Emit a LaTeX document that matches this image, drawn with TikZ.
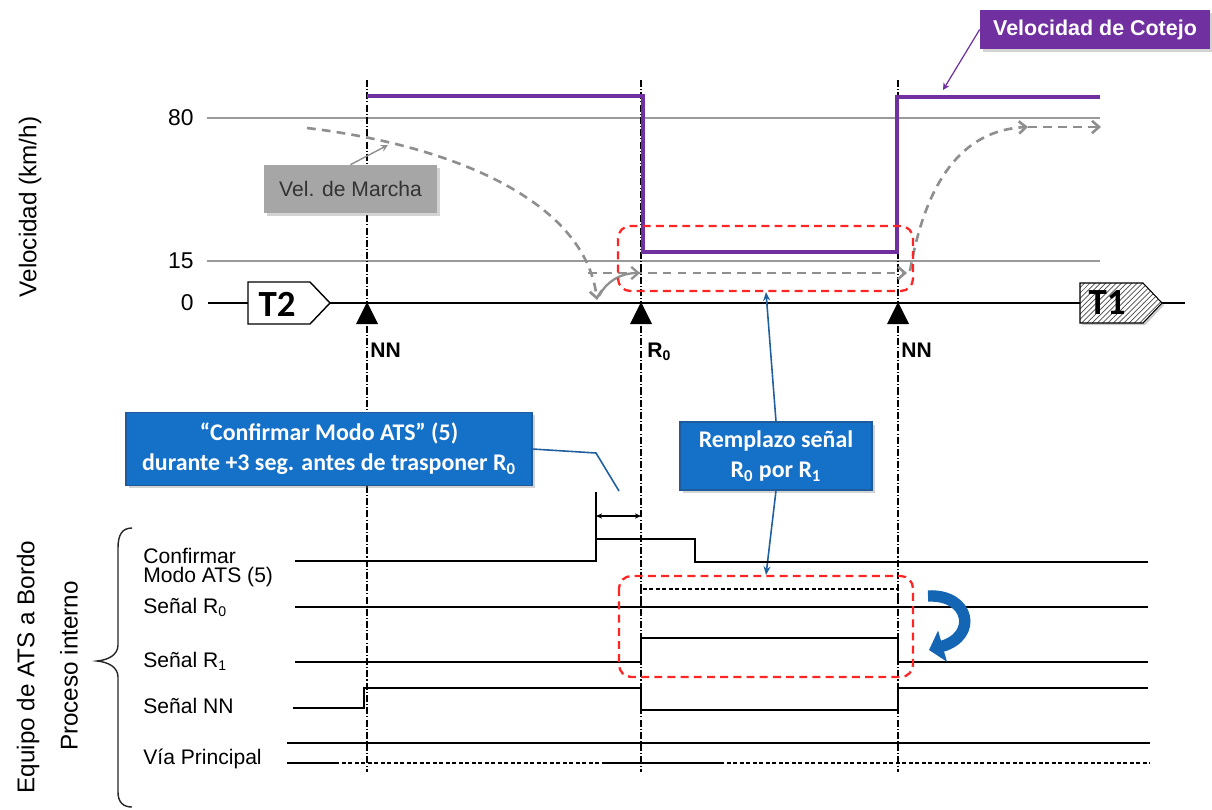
\documentclass[tikz,border=0pt]{standalone}
\usepackage{fontspec}
\setmainfont{Liberation Sans}
\newfontfamily\carl{Carlito}
\usetikzlibrary{arrows.meta,shadows,patterns,calc}
\definecolor{purp}{HTML}{7030A0}
\definecolor{bbox}{HTML}{1570C8}
\definecolor{bedge}{HTML}{1F5A9A}
\definecolor{bline}{HTML}{1F5F9E}
\definecolor{gbox}{HTML}{A6A6A6}
\definecolor{gdash}{HTML}{8F8F8F}
\definecolor{rdash}{HTML}{FF2525}
\definecolor{barrow}{HTML}{1466B4}
\begin{document}
\begin{tikzpicture}[x=0.02cm,y=-0.02cm,
  lbl/.style={font=\fontsize{12}{13}\selectfont, inner sep=0pt, anchor=base west},
  num/.style={font=\fontsize{13}{14}\selectfont, inner sep=0pt, anchor=east},
  rotlbl/.style={font=\fontsize{13.8}{15}\selectfont, rotate=90, inner sep=0pt},
  marklbl/.style={font=\fontsize{12}{13}\selectfont\bfseries, inner sep=0pt, anchor=base west},
  sig/.style={line width=0.8pt, black},
  refline/.style={line width=0.7pt, black!40},
  vline/.style={line width=0.6pt, black, dash pattern=on 4pt off 1.2pt on 0.6pt off 1.2pt},
  reddash/.style={rdash, line width=1.3pt, dash pattern=on 4.5pt off 3pt, rounded corners=7pt},
  graydash/.style={gdash, line width=1.5pt, dash pattern=on 5pt off 3.5pt},
  barb/.style={-{Straight Barb[length=4pt,width=7pt]}},
  bluebox/.style={fill=bbox, draw=bedge, line width=0.6pt, text=white,
    font=\carl\fontsize{13.6}{17}\selectfont\bfseries, align=center, inner sep=0pt,
    drop shadow={opacity=0.35, shadow xshift=1.5pt, shadow yshift=-1.5pt}},
  tri/.style={fill=black}
]
\useasboundingbox (0,0) rectangle (1212,809);

% ---------- reference lines ----------
\draw[refline] (207,118) -- (1100,118);
\draw[refline] (207,261) -- (1100,261);
\draw[line width=0.8pt] (208,303) -- (1185,303);

\node[num] (n80) at (194,118) {80};
\node[num] (n15) at (194,261) {15};
\node[num] (n0) at (194,303) {0};
\node[rotlbl] (vlab) at (30,207) {Velocidad (km/h)};

% ---------- vertical dash-dot lines ----------
\coordinate (vAt) at (367,80);  \coordinate (vAb) at (367,772);
\coordinate (vBt) at (641,80);  \coordinate (vBb) at (641,772);
\coordinate (vCt) at (898,80);  \coordinate (vCb) at (898,772);
\draw[vline] (vAt) -- (vAb);
\draw[vline] (vBt) -- (vBb);
\draw[vline] (vCt) -- (vCb);

% ---------- Velocidad de cotejo ----------
\draw[purp, line width=2.4pt] (367,96) -- (643,96) -- (643,252) -- (897,252) -- (897,97) -- (1100,97);

% ---------- Velocidad de marcha (gray dashed) ----------
\coordinate (g0) at (307,128);
\coordinate (g1) at (597,300);
\draw[graydash, barb] (g0) .. controls (450,145) and (585,200) .. (g1);
\coordinate (a0) at (599,296);
\coordinate (a1) at (640,273);
\draw[gdash, line width=1.3pt, barb] (a0) .. controls (606,282) and (620,273) .. (a1);
\coordinate (h0) at (588,273);
\coordinate (h1) at (907,273);
\draw[graydash, barb] (h0) -- (h1);
\coordinate (r0) at (910,271);
\coordinate (r1) at (1028,127);
\coordinate (r2) at (1101,127);
\draw[graydash, barb] (r0) .. controls (925,185) and (960,130) .. (r1);
\draw[graydash, barb] (r1) -- (r2);

% ---------- upper red box ----------
\draw[reddash] (618,226) rectangle (913,291);

% ---------- T2 / T1 ----------
\draw[fill=white, line width=0.8pt] (248,282) -- (310,282) -- (330,303) -- (310,324) -- (248,324) -- cycle;
\node[font=\carl\fontsize{21}{24}\selectfont\bfseries, inner sep=0pt] (t2) at (277,304) {T2};
\draw[line width=0.6pt, drop shadow={opacity=0.4, shadow xshift=1.2pt, shadow yshift=-1.2pt},
  preaction={fill=white}, pattern=north east lines, pattern color=black!70]
  (1080,283) -- (1143,283) -- (1162,303) -- (1143,323) -- (1080,323) -- cycle;
\node[font=\carl\fontsize{21}{24}\selectfont\bfseries, inner sep=0pt] (t1) at (1107,303) {T1};

% ---------- triangles and marks ----------
\fill[tri] (367,302) -- (356,324) -- (378,324) -- cycle;
\fill[tri] (641,302) -- (630,324) -- (652,324) -- cycle;
\fill[tri] (898,302) -- (887,324) -- (909,324) -- cycle;
\node[marklbl] (nn1) at (370,357) {NN};
\node[marklbl] (rr0) at (647,357) {R\textsubscript{0}};
\node[marklbl] (nn2) at (901,357) {NN};

% ---------- callout labels ----------
\node[fill=gbox, text=black!80, font=\fontsize{12}{13}\selectfont, minimum width=173*0.02cm, minimum height=48*0.02cm, inner sep=0pt,
  drop shadow={opacity=0.35, shadow xshift=1.5pt, shadow yshift=-1.5pt}] (vm) at (350.5,189) {Vel. de Marcha};
\coordinate (vmt) at (388,145);
\draw[gdash, line width=0.8pt, -{Stealth[length=4pt,width=4pt]}] (vm.north) -- (vmt);

\node[fill=purp, text=white, font=\fontsize{12.2}{14}\selectfont\bfseries, minimum width=230*0.02cm, minimum height=39*0.02cm, inner sep=0pt,
  drop shadow={opacity=0.35, shadow xshift=1.5pt, shadow yshift=-1.5pt}] (cot) at (1095,29.5) {Velocidad de Cotejo};
\coordinate (cott) at (943,90);
\draw[purp, line width=0.7pt, -{Stealth[length=4pt,width=4pt]}] (cot.west) -- (cott);

\node[bluebox, minimum width=406*0.02cm, minimum height=73*0.02cm] (cbox) at (329,449)
  {\textquotedblleft Confirmar Modo ATS\textquotedblright\ (5)\\durante +3 seg. antes de trasponer R\textsubscript{0}};
\coordinate (cp1) at (596,453);
\coordinate (cp2) at (619,491);
\draw[bline, line width=0.9pt] (cbox.east) -- (cp1) -- (cp2);

\node[bluebox, minimum width=192*0.02cm, minimum height=68*0.02cm] (rbox) at (776,456)
  {Remplazo se\~nal\\R\textsubscript{0} por R\textsubscript{1}};
\coordinate (rt) at (766,292);
\coordinate (rb) at (766,575);
\draw[bline, line width=0.9pt, -{Stealth[length=5pt,width=4pt]}] (rbox.north) -- (rt);
\draw[bline, line width=0.9pt, -{Stealth[length=5pt,width=4pt]}] (rbox.south) -- (rb);

% ---------- signals ----------
\node[lbl] (lc1) at (143,563) {Confirmar};
\node[lbl] (lc2) at (143,582) {Modo ATS (5)};
\node[lbl] (lr0) at (143,613) {Se\~nal R\textsubscript{0}};
\node[lbl] (lr1) at (143,667) {Se\~nal R\textsubscript{1}};
\node[lbl] (lnn) at (143,713) {Se\~nal NN};
\node[lbl] (lvp) at (143,764) {V\'ia Principal};

% confirmar
\draw[sig] (295,561) -- (596,561) -- (596,539) -- (695,539) -- (695,562) -- (1148,562);
\draw[sig] (596,539) -- (596,492);
\coordinate (d0) at (596,516);
\coordinate (d1) at (641,516);
\draw[line width=0.6pt, {Stealth[length=3.5pt,width=3pt]}-{Stealth[length=3.5pt,width=3pt]}] (d0) -- (d1);
% R0
\draw[sig] (295,607) -- (1148,607);
\draw[line width=0.7pt, dash pattern=on 2.5pt off 1.2pt] (641,607) -- (641,589) -- (898,589) -- (898,607);
% R1
\draw[sig] (295,662) -- (641,662) -- (641,638) -- (898,638) -- (898,662) -- (1148,662);
% NN
\draw[sig] (293,708) -- (364,708) -- (364,688) -- (641,688) -- (641,710) -- (898,710) -- (898,688) -- (1148,688);
% Via principal
\draw[sig] (287,743) -- (1150,743);
\draw[sig] (287,763) -- (335,763);
\draw[line width=0.7pt, dash pattern=on 2.5pt off 1.2pt] (335,763) -- (602,763);
\draw[sig] (602,763) -- (720,763);
\draw[line width=0.7pt, dash pattern=on 2.5pt off 1.2pt] (720,763) -- (1150,763);

% lower red box
\draw[reddash] (619,576) rectangle (913,677);

% blue curved arrow
\coordinate (ba0) at (928,596);
\coordinate (ba1) at (929,650);
\draw[barrow, line width=6.5pt, -{Triangle[length=8pt,width=18pt]}] (ba0) .. controls (970,594) and (978,636) .. (ba1);

% brace and group labels
\draw[line width=0.8pt, black!85] (132,528) .. controls (122,528) and (118,535) .. (118,548) -- (118,645)
  .. controls (118,655) and (108,660) .. (97,661) .. controls (108,662) and (118,667) .. (118,677) -- (118,792)
  .. controls (118,802) and (123,807) .. (132,807);
\node[rotlbl] (eq) at (28,667) {Equipo de ATS a Bordo};
\node[rotlbl] (pi) at (69,666) {Proceso interno};
\end{tikzpicture}
\end{document}
